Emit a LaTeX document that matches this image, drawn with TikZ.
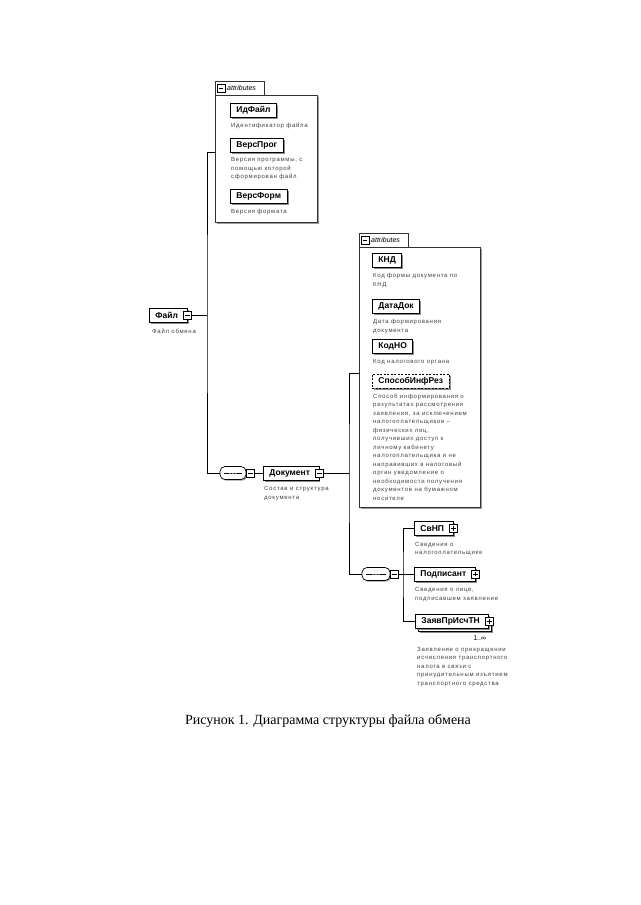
\documentclass[tikz,border=0pt]{standalone}
\usepackage{fontspec}
\setmainfont{Liberation Serif}
\setsansfont{Liberation Sans}
\newfontfamily\descfont[LetterSpace=12]{Liberation Sans}
\usetikzlibrary{positioning,shadows}

\begin{document}
\begin{tikzpicture}[x=1pt,y=-1pt,
		elem node/.style = {draw, line width=0.9pt, fill=white, anchor=west,
			font=\sffamily\bfseries\fontsize{8.5}{10}\selectfont, inner xsep=6pt, inner ysep=2pt,
			minimum height=14pt, drop shadow={shadow xshift=1.5pt, shadow yshift=-1.5pt, fill=black!45, opacity=1}},
		with sign/.style = {execute at end node={\hspace*{3pt}}},
		minus box/.style = {draw, fill=white, line width=0.6pt, minimum size=8pt, inner sep=0pt,
			path picture={\draw[line width=0.6pt] ([xshift=1.6pt]path picture bounding box.west) -- ([xshift=-1.6pt]path picture bounding box.east);}},
		plus box/.style = {draw, fill=white, line width=0.6pt, minimum size=8pt, inner sep=0pt,
			path picture={\draw[line width=0.6pt] ([xshift=1.6pt]path picture bounding box.west) -- ([xshift=-1.6pt]path picture bounding box.east);
				\draw[line width=0.6pt] ([yshift=1.6pt]path picture bounding box.south) -- ([yshift=-1.6pt]path picture bounding box.north);}},
		desc node/.style = {inner sep=0pt, align=left, text=black!75, font=\descfont\fontsize{6}{8.5}\selectfont},
		group node/.style = {draw=black!80, line width=0.6pt, fill=white, anchor=north west, inner sep=0pt,
			drop shadow={shadow xshift=1.5pt, shadow yshift=-1.5pt, fill=black!40, opacity=1}},
		tab node/.style = {fill=white, anchor=south west, inner xsep=2pt, minimum height=14pt,
			font=\sffamily\itshape\fontsize{7}{8}\selectfont,
			execute at begin node={\hspace*{10pt}}, execute at end node={\hspace*{6pt}}},
		group line/.style = {draw=black!80, line width=0.6pt},
		seq node/.style = {draw, line width=0.7pt, fill=white, rounded corners=5pt, minimum width=26pt,
			minimum height=13pt, inner sep=0pt, drop shadow={shadow xshift=1.2pt, shadow yshift=-1.2pt, fill=black!40, opacity=1},
			path picture={\draw[line width=0.7pt] ([xshift=4pt]path picture bounding box.west) -- ([xshift=-4pt]path picture bounding box.east);
				\fill ([xshift=-3pt]path picture bounding box.center) circle (0.9pt);
				\fill (path picture bounding box.center) circle (0.9pt);
				\fill ([xshift=3pt]path picture bounding box.center) circle (0.9pt);}},
		link/.style = {line width=0.6pt}]

		\fill[white] (0,0) rectangle (640,905);
		\useasboundingbox (0,0) rectangle (640,905);

		% attributes of Файл
		\node[group node, minimum width=102pt, minimum height=127pt] (grp1) at (215,95) {};
		\node[tab node] (tab1) at (215,95.5) {attributes};
		\draw[group line] (tab1.south west) |- (tab1.north east) -- (tab1.south east);
		\node[minus box] (tab1S) at ([xshift=6pt]tab1.west) {};

		\node[elem node] (idfile) at (230,110.5) {ИдФайл};
		\node[desc node, below right=5pt and 1pt of idfile.south west] (idfileD) {Идентификатор файла};
		\node[elem node] (versprog) at (230,145) {ВерсПрог};
		\node[desc node, below right=5pt and 1pt of versprog.south west] (versprogD) {Версия программы, с\\помощью которой\\сформирован файл};
		\node[elem node] (versform) at (230,196.5) {ВерсФорм};
		\node[desc node, below right=5pt and 1pt of versform.south west] (versformD) {Версия формата};

		% root
		\node[elem node, with sign] (file) at (149,315) {Файл};
		\node[minus box] (fileS) at (file.east) {};
		\node[desc node, below right=6pt and 3pt of file.south west] (fileD) {Файл обмена};

		\node[seq node] (seq1) at (233,473) {};
		\node[minus box, anchor=west] (seq1S) at (seq1.east) {};

		\node[elem node, with sign] (doc) at (263,473) {Документ};
		\node[minus box] (docS) at (doc.east) {};
		\node[desc node, below right=6pt and 1pt of doc.south west] (docD) {Состав и структура\\документа};

		% attributes of Документ
		\node[group node, minimum width=121pt, minimum height=260pt] (grp2) at (359,247) {};
		\node[tab node] (tab2) at (359,247.5) {attributes};
		\draw[group line] (tab2.south west) |- (tab2.north east) -- (tab2.south east);
		\node[minus box] (tab2S) at ([xshift=6pt]tab2.west) {};

		\node[elem node] (knd) at (372,260.5) {КНД};
		\node[desc node, below right=5pt and 1pt of knd.south west] (kndD) {Код формы документа по\\КНД};
		\node[elem node] (datadok) at (372,306.5) {ДатаДок};
		\node[desc node, below right=5pt and 1pt of datadok.south west] (datadokD) {Дата формирования\\документа};
		\node[elem node] (kodno) at (372,346.5) {КодНО};
		\node[desc node, below right=5pt and 1pt of kodno.south west] (kodnoD) {Код налогового органа};
		\node[elem node, dash pattern=on 2pt off 1.5pt] (sposob) at (372,381) {СпособИнфРез};
		\node[desc node, below right=5pt and 1pt of sposob.south west] (sposobD) {Способ информирования о\\результатах рассмотрения\\заявления, за исключением\\налогоплательщиков –\\физических лиц,\\получивших доступ к\\личному кабинету\\налогоплательщика и не\\направивших в налоговый\\орган уведомление о\\необходимости получения\\документов на бумажном\\носителе};

		% children of Документ
		\node[seq node, minimum width=28pt] (seq2) at (376,574) {};
		\node[minus box, anchor=west] (seq2S) at (seq2.east) {};

		\node[elem node, with sign] (svnp) at (414,528.5) {СвНП};
		\node[plus box] (svnpS) at (svnp.east) {};
		\node[desc node, below right=6pt and 1pt of svnp.south west] (svnpD) {Сведения о\\налогоплательщике};
		\node[elem node, with sign] (podp) at (414,574) {Подписант};
		\node[plus box] (podpS) at (podp.east) {};
		\node[desc node, below right=6pt and 1pt of podp.south west] (podpD) {Сведения о лице,\\подписавшем заявление};
		\node[elem node, with sign] (zayavB) at (418,624.5) {\phantom{ЗаявПрИсчТН}};
		\node[elem node, with sign] (zayav) at (415,621.5) {ЗаявПрИсчТН};
		\node[plus box] (zayavS) at (zayav.east) {};
		\node[anchor=north east, inner sep=0pt, font=\sffamily\fontsize{7}{8}\selectfont] (zayavN) at ([xshift=-3pt,yshift=-7pt]zayav.south east) {1..∞};
		\node[desc node, below right=18pt and 2pt of zayav.south west] (zayavD) {Заявление о прекращении\\исчисления транспортного\\налога в связи с\\принудительным изъятием\\транспортного средства};

		\coordinate (trunk1) at (207,315);
		\coordinate (trunk2) at (349,473);
		\coordinate (trunk3) at (403,574);

		\draw[link] (grp1.west |- versprog.south) -| (trunk1) |- (seq1.west);
		\draw[link] (fileS.east) -- (trunk1);
		\draw[link] (seq1S.east) -- (doc.west);
		\draw[link] (docS.east) -- (trunk2);
		\draw[link] (grp2.west |- sposob.north) -| (trunk2) |- (seq2.west);
		\draw[link] (seq2S.east) -- (podp.west);
		\draw[link] (svnp.west) -| (trunk3) |- (zayav.west);

		\node[font=\fontsize{14}{17}\selectfont] (caption) at (328,721) {Рисунок 1. Диаграмма структуры файла обмена};
\end{tikzpicture}
\end{document}
